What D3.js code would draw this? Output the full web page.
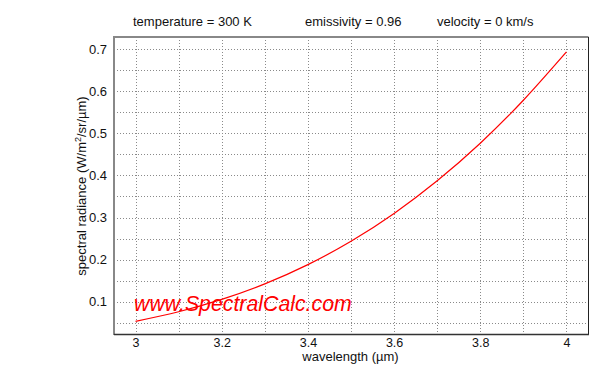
<!DOCTYPE html>
<html><head><meta charset="utf-8">
<script src="https://cdn.jsdelivr.net/npm/d3@7"></script>
<style>body{margin:0;background:#fff}svg{display:block;font-family:"Liberation Sans",Arial,sans-serif}</style>
</head><body><svg id="c" width="600" height="380"></svg>
<script>
const wavelength = [3.0, 3.1, 3.2, 3.3, 3.4, 3.5, 3.6, 3.7, 3.8, 3.9, 4.0];
const radiance = [0.0536, 0.0763, 0.1056, 0.1425, 0.1882, 0.2436, 0.3097, 0.3871, 0.4764, 0.5783, 0.6930];
const xTicks = [3, 3.2, 3.4, 3.6, 3.8, 4];
const xGrid = [3, 3.1, 3.2, 3.3, 3.4, 3.5, 3.6, 3.7, 3.8, 3.9, 4];
const yTicks = [0.1, 0.2, 0.3, 0.4, 0.5, 0.6, 0.7];
const yGrid = [0.05, 0.1, 0.15, 0.2, 0.25, 0.3, 0.35, 0.4, 0.45, 0.5, 0.55, 0.6, 0.65, 0.7];
const headers = ["temperature = 300 K", "emissivity = 0.96", "velocity = 0 km/s"];

const svg = d3.select("#c");
const L = 114, R = 588, T = 37, B = 334;
const x = d3.scaleLinear().domain([2.95, 4.05]).range([L, R]);
const y = d3.scaleLinear().domain([0.0235, 0.7285]).range([B, T]);

// grid
const g = svg.append("g");
g.selectAll(".vx").data(xGrid).join("line")
  .attr("x1", d => Math.round(x(d)) + 0.5).attr("x2", d => Math.round(x(d)) + 0.5)
  .attr("y1", T).attr("y2", B)
  .attr("stroke", "#8a8a8a").attr("stroke-dasharray", "1,2");
g.selectAll(".hy").data(yGrid).join("line")
  .attr("y1", d => Math.round(y(d)) + 0.5).attr("y2", d => Math.round(y(d)) + 0.5)
  .attr("x1", L).attr("x2", R)
  .attr("stroke", "#8a8a8a").attr("stroke-dasharray", "1,2");

// curve
svg.append("path").datum(wavelength.map((w, i) => [w, radiance[i]]))
  .attr("fill", "none").attr("stroke", "#ff0000").attr("stroke-width", 1.2)
  .attr("d", d3.line().x(d => x(d[0])).y(d => y(d[1])).curve(d3.curveNatural));

// watermark
svg.append("text").attr("x", 134).attr("y", 311)
  .attr("fill", "#ff0000").attr("font-style", "italic").attr("font-size", 21.3)
  .text("www.SpectralCalc.com");

// frame
svg.append("line").attr("x1", L).attr("x2", R + 0.5).attr("y1", T).attr("y2", T).attr("stroke", "#888").attr("stroke-width", 2);
svg.append("line").attr("x1", L).attr("x2", L).attr("y1", T - 1).attr("y2", B + 1).attr("stroke", "#888").attr("stroke-width", 2);
svg.append("line").attr("x1", R + 0.5).attr("x2", R + 0.5).attr("y1", T).attr("y2", B).attr("stroke", "#222").attr("stroke-width", 1);
svg.append("line").attr("x1", L).attr("x2", R + 1).attr("y1", B + 0.5).attr("y2", B + 0.5).attr("stroke", "#333").attr("stroke-width", 1.5);

// axes labels via d3 axes
const xAxis = d3.axisBottom(x).tickValues(xTicks).tickSize(0).tickPadding(3).tickFormat(d3.format("~g"));
const xa = svg.append("g").attr("transform", `translate(0,${B + 1})`).call(xAxis);
xa.select(".domain").remove();
xa.selectAll("text").attr("font-size", 12.5).attr("fill", "#111").attr("font-family", "Liberation Sans, Arial, sans-serif");

const yAxis = d3.axisLeft(y).tickValues(yTicks).tickSize(0).tickPadding(6).tickFormat(d3.format("~g"));
const ya = svg.append("g").attr("transform", `translate(${L - 1},0)`).call(yAxis);
ya.select(".domain").remove();
ya.selectAll("text").attr("font-size", 13).attr("fill", "#111").attr("font-family", "Liberation Sans, Arial, sans-serif");

// titles
svg.append("text").attr("x", (L + R) / 2 - 0.5).attr("y", 361).attr("text-anchor", "middle")
  .attr("font-size", 13).attr("fill", "#111").text("wavelength (µm)");
const yl = svg.append("text").attr("transform", "translate(86,186) rotate(-90)")
  .attr("text-anchor", "middle").attr("font-size", 13).attr("fill", "#111");
yl.append("tspan").text("spectral radiance (W/m");
yl.append("tspan").attr("dy", -5).attr("font-size", 9).text("2");
yl.append("tspan").attr("dy", 5).text("/sr/µm)");

// header
const hx = [133, 305, 437];
svg.selectAll(".hdr").data(headers).join("text")
  .attr("x", (d, i) => hx[i]).attr("y", 26).attr("font-size", 13).attr("fill", "#111").text(d => d);
</script></body></html>
